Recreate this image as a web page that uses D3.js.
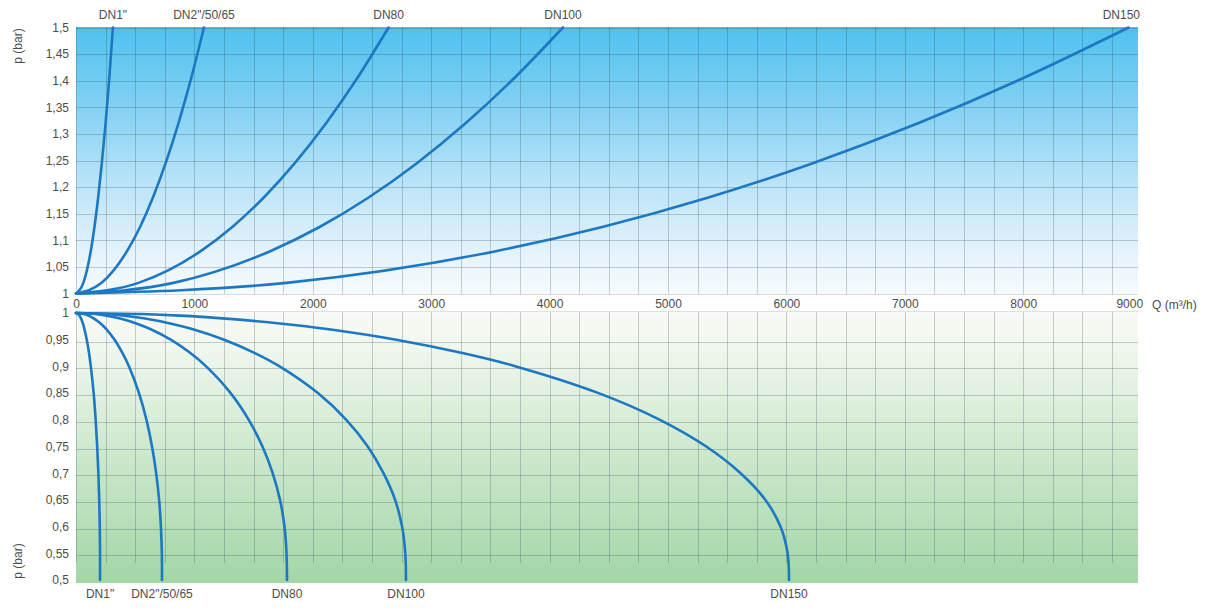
<!DOCTYPE html>
<html>
<head>
<meta charset="utf-8">
<script src="https://cdn.jsdelivr.net/npm/d3@7/dist/d3.min.js"></script>
<style>
  html, body { margin: 0; padding: 0; background: #ffffff; }
  svg { display: block; }
  text { font-family: "Liberation Sans", Arial, sans-serif; fill: #4d4d4d; }
</style>
</head>
<body>
<svg id="chart" width="1216" height="616"></svg>
<script>
// ---------- data ----------
const xTicks = [0, 1000, 2000, 3000, 4000, 5000, 6000, 7000, 8000, 9000];
const topTicks = [1, 1.05, 1.1, 1.15, 1.2, 1.25, 1.3, 1.35, 1.4, 1.45, 1.5];
const bottomTicks = [0.5, 0.55, 0.6, 0.65, 0.7, 0.75, 0.8, 0.85, 0.9, 0.95, 1];
const seriesNames = ['DN1"', 'DN2"/50/65', 'DN80', 'DN100', 'DN150'];

// overpressure curves (top): pressure levels and flow read at each level
const topP = [1, 1.02, 1.08, 1.125, 1.18, 1.245, 1.32, 1.405, 1.5];
const topQ_DN1 = [0, 62, 125, 156, 187, 218, 250, 281, 312];
const topQ_DN2 = [0, 216, 432, 541, 649, 757, 865, 973, 1081];
const topQ_DN80 = [0, 528, 1056, 1320, 1584, 1848, 2112, 2376, 2640];
const topQ_DN100 = [0, 823, 1645, 2057, 2468, 2879, 3290, 3702, 4113];
const topQ_DN150 = [0, 1778, 3556, 4445, 5334, 6223, 7112, 8001, 8890];

// vacuum curves (bottom)
const botP = [1, 0.998, 0.995, 0.99, 0.98, 0.97, 0.95, 0.925, 0.9, 0.85, 0.8, 0.75, 0.7, 0.65, 0.6, 0.55, 0.5];
const botQ_DN1 = [0, 19, 30, 42, 59, 71, 91, 110, 125, 149, 166, 179, 189, 196, 201, 203, 203];
const botQ_DN2 = [0, 67, 106, 149, 210, 256, 326, 393, 448, 532, 595, 642, 677, 702, 717, 725, 726];
const botQ_DN80 = [0, 164, 260, 365, 515, 627, 800, 966, 1099, 1306, 1459, 1575, 1661, 1723, 1761, 1778, 1782];
const botQ_DN100 = [0, 256, 407, 571, 805, 981, 1251, 1511, 1720, 2043, 2283, 2464, 2597, 2695, 2754, 2781, 2787];
const botQ_DN150 = [0, 554, 879, 1235, 1740, 2120, 2704, 3264, 3716, 4414, 4932, 5323, 5613, 5823, 5950, 6010, 6022];

const topSeries = [topQ_DN1, topQ_DN2, topQ_DN80, topQ_DN100, topQ_DN150];
const botSeries = [botQ_DN1, botQ_DN2, botQ_DN80, botQ_DN100, botQ_DN150];

// ---------- layout ----------
const svg = d3.select('#chart');
const X0 = 76, X1 = 1141.6, PANEL_R = 1138;
const x = d3.scaleLinear().domain([0, 9000]).range([X0, X1]);
const yTop = d3.scaleLinear().domain([1, 1.5]).range([293.5, 27.5]);
const yBot = d3.scaleLinear().domain([0.5, 1]).range([580, 313]);

const locale = d3.formatLocale({decimal: ",", thousands: "", grouping: [3], currency: ["", ""]});
const fmt = locale.format(".2~f");

const defs = svg.append('defs');
const gTop = defs.append('linearGradient').attr('id', 'gTop').attr('x1', 0).attr('y1', 0).attr('x2', 0).attr('y2', 1);
[[0, '#4ec1ee'], [0.3, '#84d1f3'], [0.6, '#bde5f8'], [0.85, '#e5f3fb'], [1, '#f6fbfe']]
  .forEach(s => gTop.append('stop').attr('offset', s[0]).attr('stop-color', s[1]));
const gBot = defs.append('linearGradient').attr('id', 'gBot').attr('x1', 0).attr('y1', 0).attr('x2', 0).attr('y2', 1);
[[0, '#f8faf5'], [0.12, '#f1f7ee'], [0.5, '#cfe9cf'], [1, '#a3d6a7']]
  .forEach(s => gBot.append('stop').attr('offset', s[0]).attr('stop-color', s[1]));

// backgrounds
svg.append('rect').attr('x', X0).attr('y', 27).attr('width', PANEL_R - X0).attr('height', 267).attr('fill', 'url(#gTop)');
svg.append('rect').attr('x', X0).attr('y', 312).attr('width', PANEL_R - X0).attr('height', 271).attr('fill', 'url(#gBot)');

// grid
const gridColor = 'rgba(35,60,75,0.24)';
const vGrid = d3.range(0, 9001, 250).filter(v => x(v) <= PANEL_R + 0.5);
const grid = svg.append('g').attr('stroke', gridColor).attr('stroke-width', 1).attr('shape-rendering', 'crispEdges');
grid.selectAll('.vt').data(vGrid).join('line')
  .attr('x1', d => Math.round(x(d)) + 0.5).attr('x2', d => Math.round(x(d)) + 0.5)
  .attr('y1', 27).attr('y2', 294);
grid.selectAll('.ht').data(topTicks.slice(1)).join('line')
  .attr('x1', X0).attr('x2', PANEL_R)
  .attr('y1', d => Math.round(yTop(d)) + 0.5).attr('y2', d => Math.round(yTop(d)) + 0.5);
grid.selectAll('.vb').data(vGrid).join('line')
  .attr('x1', d => Math.round(x(d)) + 0.5).attr('x2', d => Math.round(x(d)) + 0.5)
  .attr('y1', 312).attr('y2', 563);
grid.selectAll('.hb').data(bottomTicks.slice(1, -1)).join('line')
  .attr('x1', X0).attr('x2', PANEL_R)
  .attr('y1', d => Math.round(yBot(d)) + 2.5).attr('y2', d => Math.round(yBot(d)) + 2.5);
// band borders
svg.append('line').attr('x1', X0).attr('x2', PANEL_R).attr('y1', 294.5).attr('y2', 294.5)
  .attr('stroke', 'rgba(0,0,0,0.15)');
svg.append('line').attr('x1', X0).attr('x2', PANEL_R).attr('y1', 311.5).attr('y2', 311.5)
  .attr('stroke', 'rgba(0,0,0,0.12)');

// curves
const lineTop = d3.line().x(d => x(d[0])).y(d => yTop(d[1])).curve(d3.curveMonotoneX);
const lineBot = d3.line().x(d => x(d[0])).y(d => yBot(d[1])).curve(d3.curveCatmullRom.alpha(0.5));
const curveColor = '#1c78c2';
svg.append('g').selectAll('path').data(topSeries).join('path')
  .attr('d', s => lineTop(s.map((q, i) => [q, topP[i]])))
  .attr('fill', 'none').attr('stroke', curveColor).attr('stroke-width', 2.6).attr('stroke-linecap', 'round');
svg.append('g').selectAll('path').data(botSeries).join('path')
  .attr('d', s => lineBot(s.map((q, i) => [q, botP[i]])))
  .attr('fill', 'none').attr('stroke', curveColor).attr('stroke-width', 2.6).attr('stroke-linecap', 'round');

// axes
const styleAxis = g => {
  g.select('.domain').remove();
  g.selectAll('.tick line').remove();
  g.selectAll('text').attr('font-size', 12).attr('fill', '#4d4d4d')
    .attr('font-family', '"Liberation Sans", Arial, sans-serif');
};
svg.append('g').attr('transform', `translate(${X0},0)`)
  .call(d3.axisLeft(yTop).tickValues(topTicks).tickFormat(fmt).tickSize(0).tickPadding(7))
  .call(styleAxis);
svg.append('g').attr('transform', `translate(${X0},0)`)
  .call(d3.axisLeft(yBot).tickValues(bottomTicks).tickFormat(fmt).tickSize(0).tickPadding(7))
  .call(styleAxis);
const xa = svg.append('g').attr('transform', 'translate(0,297)')
  .call(d3.axisBottom(x).tickValues(xTicks).tickFormat(d3.format('d')).tickSize(0).tickPadding(2))
  .call(styleAxis);
xa.selectAll('.tick').filter(d => d === 9000).select('text').attr('text-anchor', 'end').attr('dx', 1);

svg.append('text').attr('x', 1152).attr('y', 309).attr('font-size', 12).text('Q (m³/h)');

// axis titles
[[46, 'p (bar)'], [561, 'p (bar)']].forEach(([cy, t]) => {
  svg.append('text').attr('transform', `translate(22,${cy}) rotate(-90)`)
    .attr('text-anchor', 'middle').attr('font-size', 12).text(t);
});

// series labels
seriesNames.forEach((name, i) => {
  const tq = topSeries[i][topSeries[i].length - 1];
  const t = svg.append('text').attr('y', 19).attr('font-size', 12).attr('text-anchor', 'middle').text(name);
  const w = t.node().getComputedTextLength();
  t.attr('x', Math.min(x(tq), PANEL_R + 2 - w / 2));
  const bq = botSeries[i][botSeries[i].length - 1];
  svg.append('text').attr('x', x(bq)).attr('y', 598).attr('font-size', 12)
    .attr('text-anchor', 'middle').text(name);
});
</script>
</body>
</html>
